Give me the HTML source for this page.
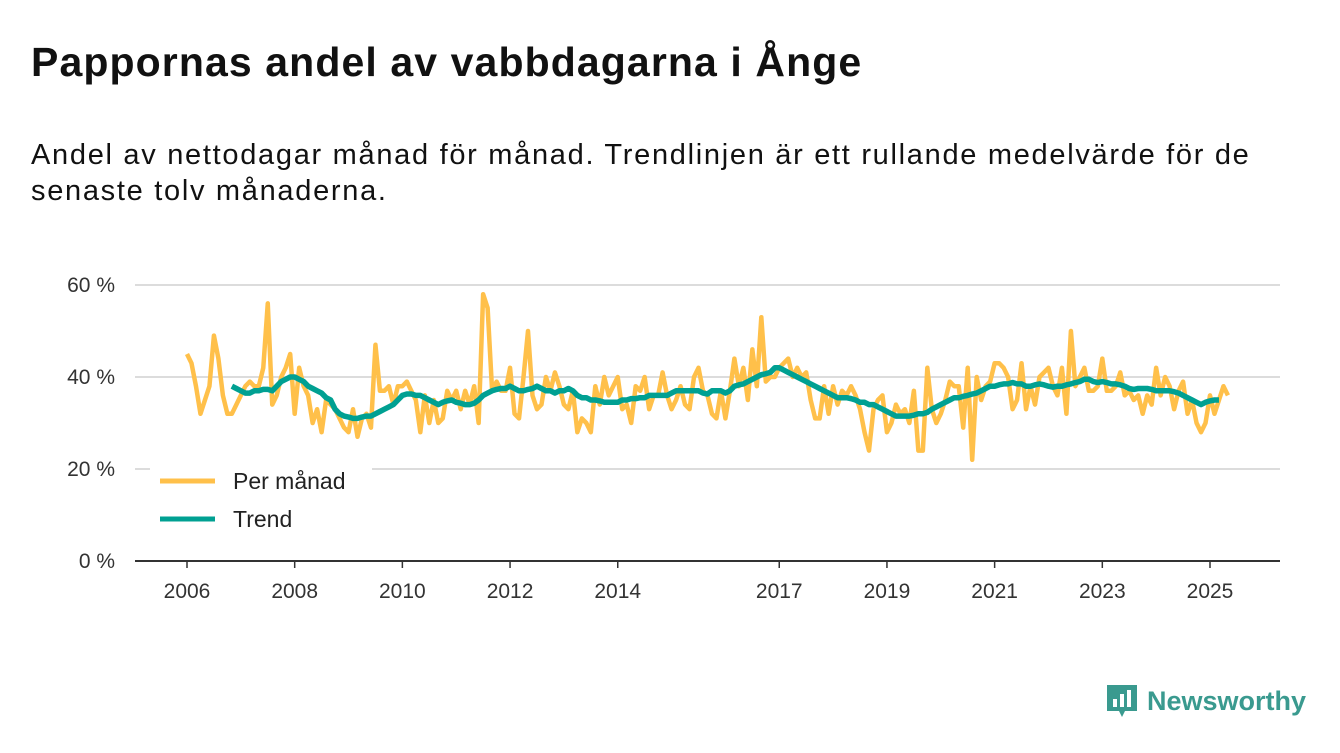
<!DOCTYPE html>
<html><head><meta charset="utf-8"><style>
body{margin:0;background:#fff;font-family:"Liberation Sans","DejaVu Sans",sans-serif;}
#wrap{position:relative;width:1340px;height:753px;overflow:hidden}
h1{position:absolute;left:31px;top:39px;margin:0;font-size:41px;letter-spacing:1.1px;font-weight:bold;color:#111}
#sub{position:absolute;left:31px;top:137px;margin:0;font-size:29px;letter-spacing:1.7px;line-height:36px;color:#111;width:1310px}
#logo{position:absolute;right:34px;top:683px;display:flex;align-items:center;gap:8px;color:#3a9a8f;font-size:27px;font-weight:bold}
</style></head><body><div id="wrap">
<h1>Pappornas andel av vabbdagarna i Ånge</h1>
<p id="sub">Andel av nettodagar månad för månad. Trendlinjen är ett rullande medelvärde för de<br>senaste tolv månaderna.</p>
<svg id="chart" width="1340" height="753" style="position:absolute;left:0;top:0"></svg>
<div id="logo"><svg width="34" height="36" viewBox="0 0 34 36"><path d="M2 2h30v26H20l-3 6-3-6H2z" fill="#3a9a8f"/><rect x="8" y="16" width="4" height="8" fill="#fff"/><rect x="15" y="11" width="4" height="13" fill="#fff"/><rect x="22" y="7" width="4" height="17" fill="#fff"/></svg><span>Newsworthy</span></div>
</div>
<script>
const monthly=[45,43,38,32,35,38,49,44,36,32,32,34,
36,38,39,38,38,42,56,34,36,40,42,45,
32,42,38,36,30,33,28,35,34,33,31,29,
28,33,27,31,32,29,47,37,37,38,34,38,
38,39,37,35,28,36,30,35,30,31,37,35,
37,33,37,34,38,30,58,55,37,39,37,37,
42,32,31,40,50,36,33,34,40,37,41,38,
34,33,37,28,31,30,28,38,34,40,36,38,
40,33,34,30,38,37,40,33,36,36,41,36,
33,35,38,34,33,40,42,37,36,32,31,37,
31,37,44,38,42,35,46,38,53,39,40,40,
42,43,44,40,42,40,41,35,31,31,38,32,
38,34,37,36,38,36,33,28,24,33,35,36,
28,30,34,32,33,30,37,24,24,42,33,30,
32,35,39,38,38,29,42,22,40,35,38,39,
43,43,42,40,33,35,43,33,38,34,40,41,
42,38,36,42,32,50,38,40,42,37,37,38,
44,37,37,38,41,36,37,35,36,32,36,34,
42,36,40,38,33,37,39,32,35,30,28,30,
36,32,35,38,36];
const trend=[38,37.5,37,36.5,36.5,37,37,37.3,37.3,37,38,39,39.5,40,
40,39.5,39,38,37.5,37,36.5,35.5,35,33,32,31.5,
31.3,31,31,31.3,31.5,31.5,32,32.5,33,33.5,34,35,
36,36.3,36.3,36,36,35.5,35,34.5,34,34.5,34.8,35,
34.5,34.3,34,34,34.3,35,36,36.5,37,37.3,37.5,37.5,
38,37.5,37,37,37.3,37.5,38,37.5,37,37,36.5,37,
37,37.5,37,36,35.5,35.5,35,35,34.8,34.5,34.5,34.5,
34.5,35,35,35.3,35.3,35.5,35.5,36,36,36,36,36,
36.5,37,37,37,37,37,37,36.5,36.3,37,37,37,
36.5,37,38,38.3,38.5,39,39.5,40,40.5,40.7,41,42,
42,41.5,41,40.5,40,39.5,39,38.5,38,37.5,37,36.5,
36,35.5,35.5,35.5,35.3,35,34.5,34.5,34,34,33.5,33,
32.5,32,31.5,31.5,31.5,31.5,31.7,32,32,32.3,33,33.5,
34,34.5,35,35.5,35.5,35.8,36,36.3,36.5,37,37.5,38,
38,38.3,38.5,38.5,38.8,38.5,38.5,38,38,38.3,38.5,38.3,
38,37.8,38,38,38.3,38.5,38.8,39,39.5,39.5,39,38.8,
39,38.8,38.5,38.5,38.3,38,37.5,37.3,37.5,37.5,37.5,37.3,
37,37,37,37,36.8,36.5,36,35.5,35,34.5,34,34.5,
34.8,35,35];
const trendStart=10;
const yTicks=[0,20,40,60];
const xTickYears=[2006,2008,2010,2012,2014,2017,2019,2021,2023,2025];
const NS="http://www.w3.org/2000/svg";
const svg=document.getElementById('chart');
const x=m=>187+m*(1210-187)/(19*12);
const y=v=>561-v*(561-285)/60;
function mk(t,a){const e=document.createElementNS(NS,t);for(const k in a)e.setAttribute(k,a[k]);svg.appendChild(e);return e;}
yTicks.forEach(v=>{
 if(v>0){const g=mk('line',{x1:135,x2:1280,y1:y(v),y2:y(v),stroke:'#dcdcdc','stroke-width':2});
 
 }
 const t=mk('text',{x:115,y:y(v)+7,'text-anchor':'end','font-size':21,fill:'#333'});t.textContent=v+' %';
 
 
});
const ax=mk('line',{x1:135,x2:1280,y1:561,y2:561,stroke:'#333','stroke-width':2});


xTickYears.forEach(yr=>{
 const px=x((yr-2006)*12);
 const tk=mk('line',{x1:px,x2:px,y1:561,y2:568,stroke:'#333','stroke-width':1.5});
 
 
 const t=mk('text',{x:px,y:598,'text-anchor':'middle','font-size':21,fill:'#333'});t.textContent=yr;
 
 
});
const p1=mk('polyline',{points:monthly.map((v,i)=>x(i)+','+y(v)).join(' '),fill:'none',stroke:'#ffc04a','stroke-width':4.5,'stroke-linejoin':'round'});


const p2=mk('polyline',{points:trend.map((v,i)=>x(i+trendStart)+','+y(v)).join(' '),fill:'none',stroke:'#00a092','stroke-width':5.5,'stroke-linejoin':'round'});


const bg=mk('rect',{x:150,y:462,width:222,height:80,fill:'#fff'});


[['Per månad','#ffc04a',481],['Trend','#00a092',519]].forEach(([n,c,yy])=>{
 const l=mk('line',{x1:160,x2:215,y1:yy,y2:yy,stroke:c,'stroke-width':5});
 
 
 const t=mk('text',{x:233,y:yy+8,'font-size':23,fill:'#222'});t.textContent=n;
 
 
});
</script></body></html>
